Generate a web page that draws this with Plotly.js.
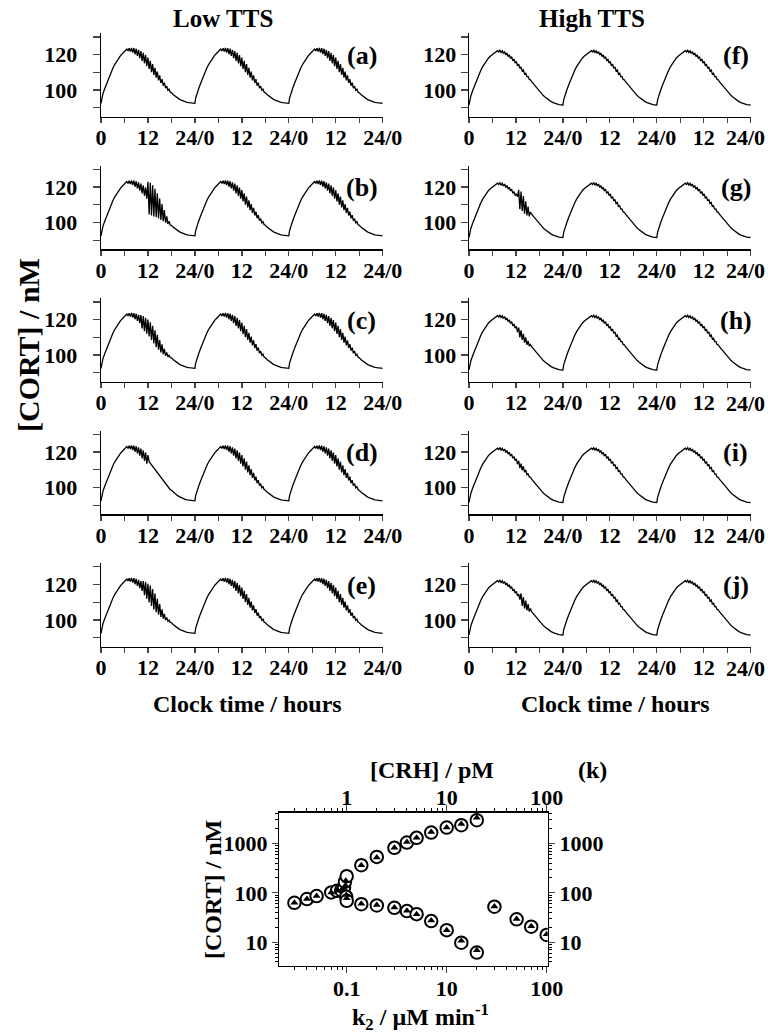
<!DOCTYPE html>
<html>
<head>
<meta charset="utf-8">
<script src="https://cdn.plot.ly/plotly-3.0.1.min.js"></script>
<style>html,body{margin:0;padding:0;background:#fff;}#chart{width:768px;height:1034px;}</style>
</head>
<body>
<div id="chart"></div>
<script>
// ---------- time-course data (one day, hours) ----------
const lowRiseT = [0, 0.2, 0.5, 1, 1.5, 2, 2.5, 3, 3.5, 4, 4.5, 5, 5.5, 6, 6.3];
const lowRiseV = [92.5, 95.5, 98, 101, 104, 107, 109.8, 112.2, 114.4, 116.3, 118, 119.4, 120.6, 121.6, 122.2];
const lowTeethT = [6.6, 6.9, 7.2, 7.5, 7.8, 8.1, 8.4, 8.7, 9.0, 9.3, 9.6, 9.9, 10.2, 10.5, 10.8, 11.1, 11.4, 11.7, 12.0, 12.3, 12.6, 12.9, 13.2, 13.5, 13.8, 14.1, 14.4, 14.7, 15.0, 15.3, 15.6, 15.9, 16.2, 16.5, 16.8, 17.1, 17.4, 17.7];
const lowTeethV = [123.1, 122.1, 123.6, 121.7, 123.8, 121.1, 123.6, 120.2, 123.3, 119.3, 122.7, 118.0, 122.0, 116.5, 121.0, 115.1, 119.8, 113.5, 118.3, 111.9, 116.5, 110.1, 114.6, 108.5, 112.5, 107.0, 110.4, 105.5, 108.3, 104.0, 106.2, 102.5, 104.2, 101.1, 102.2, 99.9, 100.5, 98.8];
const lowDecayT = [18, 18.5, 19, 19.5, 20, 20.5, 21, 21.5, 22, 22.5, 23, 23.5, 24];
const lowDecayV = [98.5, 97.4, 96.4, 95.6, 94.9, 94.3, 93.8, 93.4, 93.1, 92.9, 92.7, 92.6, 92.5];

const highRiseT = [0, 0.2, 0.5, 1, 1.5, 2, 2.5, 3, 3.5, 4, 4.5, 5, 5.5, 6, 6.5];
const highRiseV = [91.6, 94.5, 97, 100, 103, 106, 108.7, 111, 113.2, 115.1, 116.7, 118.1, 119.2, 120.1, 120.9];
const highTeethT = [7.0, 7.3, 7.6, 7.9, 8.2, 8.5, 8.8, 9.1, 9.4, 9.7, 10.0, 10.3, 10.6, 10.9, 11.2, 11.5, 11.8, 12.1, 12.4, 12.7, 13.0, 13.3, 13.6, 13.9, 14.2, 14.5, 14.8, 15.1, 15.4, 15.7];
const highTeethV = [121.5, 122.2, 121.5, 122.4, 121.2, 122.1, 120.6, 121.7, 119.8, 120.9, 118.9, 119.9, 117.8, 118.9, 116.5, 117.5, 115.2, 116.2, 113.7, 114.6, 112.2, 113.0, 110.7, 111.3, 109.1, 109.5, 107.6, 107.7, 106.0, 105.8];
const highDecayT = [16, 16.5, 17, 17.5, 18, 18.5, 19, 19.5, 20, 20.5, 21, 21.5, 22, 22.5, 23, 23.5, 24];
const highDecayV = [104.7, 103.3, 101.9, 100.5, 99.2, 98, 96.9, 95.9, 95, 94.2, 93.5, 92.9, 92.4, 92, 91.8, 91.7, 91.6];

// first-day deviations (stress segments)
const segBT = [12.0, 12.3, 12.6, 12.9, 13.2, 13.5, 13.8, 14.1, 14.4, 14.7, 15.0, 15.3, 15.6, 15.9, 16.2, 16.5, 16.8, 17.1, 17.4, 17.7];
const segBV = [123.0, 104.5, 122.5, 104.0, 121.0, 103.5, 119.0, 103.0, 116.5, 102.3, 113.5, 101.5, 110.5, 100.8, 107.0, 100.0, 103.5, 99.2, 100.8, 98.6];
const segCT = [10.2, 10.5, 10.8, 11.1, 11.4, 11.7, 12.0, 12.3, 12.6, 12.9, 13.2, 13.5, 13.8, 14.1, 14.4, 14.7, 15.0, 15.3, 15.6, 15.9, 16.2, 16.5, 16.8, 17.1, 17.4, 17.7];
const segCV = [122.5, 115, 122, 113.5, 121, 112, 120, 110.5, 118.5, 108.5, 116.5, 106.5, 114, 104.5, 111.5, 103, 108.5, 101.5, 106, 100.5, 103.5, 99.6, 101.5, 99, 100, 98.6];
const segDT = [12.3, 12.6, 13, 13.5, 14, 14.5, 15, 15.5, 16, 16.5, 17, 17.5];
const segDV = [114.6, 113.7, 112.5, 111, 109.5, 108, 106.5, 105, 103.5, 102.1, 100.8, 99.6];
const segET = [10.8, 11.1, 11.4, 11.7, 12.0, 12.3, 12.6, 12.9, 13.2, 13.5, 13.8, 14.1, 14.4, 14.7, 15.0, 15.3, 15.6, 15.9, 16.2, 16.5, 16.8, 17.1, 17.4, 17.7];
const segEV = [122, 114, 121.5, 112, 120.5, 110, 119.5, 108, 117.5, 106, 115, 104.5, 112, 103, 109, 101.8, 106, 100.8, 103.5, 100, 101.5, 99.3, 100, 98.7];
const segGT = [12.4, 12.7, 13.0, 13.3, 13.6, 13.9, 14.2, 14.5, 14.8, 15.1, 15.4, 15.7];
const segGV = [114.5, 118.5, 107.5, 117.5, 106.5, 115, 105, 112, 104, 109, 103.5, 106];
const segHT = [12.4, 12.7, 13.0, 13.3, 13.6, 13.9, 14.2, 14.5, 14.8, 15.1, 15.4, 15.7];
const segHV = [113, 115.5, 110, 114, 108.5, 112, 107, 110, 105.8, 108, 105, 106];
const segIT = [12.4, 12.7, 13.0, 13.3, 13.6, 13.9, 14.2, 14.5, 14.8];
const segIV = [113.2, 115, 111, 113.5, 109.8, 112, 108.6, 110, 107.3];
const segJT = [13.0, 13.3, 13.6, 13.9, 14.2, 14.5, 14.8, 15.1, 15.4, 15.7];
const segJV = [111.5, 115, 108, 113, 106.5, 111, 105.5, 109, 104.8, 106.5];

const panelLabels = ['(a)', '(b)', '(c)', '(d)', '(e)', '(f)', '(g)', '(h)', '(i)', '(j)'];
const xTickVals = [0, 6, 12, 18, 24, 30, 36, 42, 48, 54, 60, 66, 72];
const xTickText = ['0', '', '12', '', '24/0', '', '12', '', '24/0', '', '12', '', '24/0'];
const yTickVals = [90, 100, 110, 120, 130];
const yTickText = ['', '100', '', '120', ''];

// ---------- panel (k) data ----------
const crhCirc = [0.3, 0.4, 0.5, 0.7, 0.8, 0.88, 0.94, 0.96, 1.0, 0.99, 1.0,
                 1.4, 2, 3, 4, 5, 7, 10, 14, 20,
                 1.4, 2, 3, 4, 5, 7, 10, 14, 20,
                 30, 50, 70, 100];
const cortCirc = [63, 75, 86, 102, 110, 113, 128, 167, 217, 83, 69,
                  362, 533, 811, 1040, 1292, 1656, 2090, 2328, 2937,
                  59, 55.5, 49.8, 42.7, 37.1, 26.8, 17.6, 9.8, 6.2,
                  52.5, 29.2, 20.7, 14.1];
const crhTri = [0.3, 0.4, 0.5, 0.7, 0.8, 0.88, 0.94, 0.97, 0.98, 0.99, 1.0,
                1.4, 2, 3, 4, 5, 7, 10, 14, 20,
                1.4, 2, 3, 4, 5, 7, 10, 14, 20,
                30, 50, 70, 100];
const cortTri = [63, 75, 86, 102, 110, 113, 120, 140, 175, 90, 78,
                 362, 520, 811, 1060, 1292, 1700, 2090, 2450, 3300,
                 60, 56.5, 50.5, 43.5, 37.1, 27.5, 17.6, 10.7, 6.9,
                 53, 29.5, 21, 14.5];

const crhTickVals = [1, 10, 100];
const crhTopText = ['1', '10', '100'];
const k2BottomText = ['0.1', '10', '100'];
const cortTickVals = [10, 100, 1000];
const cortTickText = ['10', '100', '1000'];
const crhMinor = [0.3, 0.4, 0.5, 0.6, 0.7, 0.8, 0.9, 2, 3, 4, 5, 6, 7, 8, 9, 20, 30, 40, 50, 60, 70, 80, 90];
const cortMinor = [4, 5, 6, 7, 8, 9, 20, 30, 40, 50, 60, 70, 80, 90, 200, 300, 400, 500, 600, 700, 800, 900, 2000, 3000, 4000];

// ---------- build ----------
const FONT = 'Liberation Serif, Times New Roman, serif';
const W = 768, H = 1034;
const px = v => v / W;
const py = v => 1 - v / H;

function dayCurve(riseT, riseV, teethT, teethV, decT, decV, segT, segV) {
  const bt = riseT.concat(teethT, decT);
  const bv = riseV.concat(teethV, decV);
  let pts = [];
  let lo = Infinity, hi = -Infinity;
  if (segT) { lo = segT[0] - 0.15; hi = segT[segT.length - 1] + 0.15; }
  bt.forEach((t, i) => { if (t < lo || t > hi) pts.push([t, bv[i]]); });
  if (segT) segT.forEach((t, i) => pts.push([t, segV[i]]));
  pts.sort((a, b) => a[0] - b[0]);
  return pts;
}

const lowParts = [lowRiseT, lowRiseV, lowTeethT, lowTeethV, lowDecayT, lowDecayV];
const highParts = [highRiseT, highRiseV, highTeethT, highTeethV, highDecayT, highDecayV];
const segs = [null, [segBT, segBV], [segCT, segCV], [segDT, segDV], [segET, segEV],
              null, [segGT, segGV], [segHT, segHV], [segIT, segIV], [segJT, segJV]];

const traces = [];
const layout = {
  width: W, height: H, margin: {l: 0, r: 0, t: 0, b: 0},
  paper_bgcolor: '#fff', plot_bgcolor: 'rgba(0,0,0,0)', showlegend: false,
  font: {family: FONT, color: '#000'},
  annotations: []
};
const tickFont = {family: FONT, size: 22, color: '#000', weight: 700};
const rowSpacing = 132.5, firstAxis = 116.7, panelH = 83.4;

function ann(text, x, y, size, angle, xanchor) {
  layout.annotations.push({text: '<b>' + text + '</b>', xref: 'paper', yref: 'paper', x: px(x), y: py(y),
    showarrow: false, xanchor: xanchor || 'center', yanchor: 'middle', textangle: angle || 0,
    font: {family: FONT, size: size, color: '#000'}});
}

for (let p = 0; p < 10; p++) {
  const col = p < 5 ? 0 : 1;
  const row = p % 5;
  const parts = col === 0 ? lowParts : highParts;
  const base = dayCurve(...parts);
  const first = segs[p] ? dayCurve(...parts, segs[p][0], segs[p][1]) : base;
  const xs = [], ys = [];
  [first, base, base].forEach((d, k) => d.forEach(q => { xs.push(q[0] + 24 * k); ys.push(q[1]); }));
  const n = p + 1;
  traces.push({x: xs, y: ys, type: 'scatter', mode: 'lines',
    line: {color: '#000', width: 1.3}, xaxis: 'x' + n, yaxis: 'y' + n, hoverinfo: 'skip'});
  const x0 = col === 0 ? 101 : 469, x1 = col === 0 ? 382.7 : 750.7;
  const yb = firstAxis + rowSpacing * row;
  // right column: last label is pulled inside the page edge (as in the original)
  const tt = col === 0 ? xTickText : xTickText.slice(0, -1).concat(['']);
  layout['xaxis' + n] = {domain: [px(x0), px(x1)], anchor: 'y' + n, range: [0, 72],
    tickmode: 'array', tickvals: xTickVals, ticktext: tt, ticks: 'outside', ticklen: 5,
    tickwidth: 1.3, showline: true, linecolor: '#000', linewidth: 1.3, showgrid: false,
    zeroline: false, tickfont: tickFont, fixedrange: true,
    ticklabeloverflow: 'allow', ticklabelstandoff: -4};
  if (col === 1) ann(xTickText[xTickText.length - 1], 767, yb + 21.3, 22, 0, 'right');
  layout['yaxis' + n] = {domain: [py(yb), py(yb - panelH)], anchor: 'x' + n, range: [85, 132],
    tickmode: 'array', tickvals: yTickVals, ticktext: yTickText, ticks: 'outside', ticklen: 7,
    tickwidth: 1.3, showline: true, linecolor: '#000', linewidth: 1.3, showgrid: false,
    zeroline: false, tickfont: tickFont, fixedrange: true,
    ticklabelstandoff: col === 0 ? 11 : 0};
  ann(panelLabels[p], col === 0 ? 361.7 : 735.7, yb - 61.5, 26);
}

// panel k
traces.push({x: crhCirc, y: cortCirc, type: 'scatter', mode: 'markers', xaxis: 'x11', yaxis: 'y11',
  marker: {symbol: 'circle', size: 12.5, color: '#fff', line: {color: '#000', width: 2}}, hoverinfo: 'skip'});
traces.push({x: crhTri, y: cortTri, type: 'scatter', mode: 'markers', xaxis: 'x12', yaxis: 'y12',
  marker: {symbol: 'triangle-up', size: 7, color: '#000', line: {width: 0}}, hoverinfo: 'skip'});

const kx = [px(279.3), px(547.7)], ky = [py(965.7), py(812.7)];
const kxr = [-0.674, 2.01], kyr = [0.527, 3.62];
const axCommon = {showline: true, linecolor: '#000', linewidth: 1.3, showgrid: false, zeroline: false,
  ticks: 'outside', ticklen: 6, tickwidth: 1.2, tickfont: tickFont, fixedrange: true, type: 'log',
  ticklabeloverflow: 'allow'};
const minorX = {tickmode: 'array', tickvals: crhMinor, ticklen: 3, ticks: 'outside', tickcolor: '#000', tickwidth: 1};
const minorY = {tickmode: 'array', tickvals: cortMinor, ticklen: 3, ticks: 'outside', tickcolor: '#000', tickwidth: 1};
layout.xaxis11 = Object.assign({}, axCommon, {domain: kx, anchor: 'y11', range: kxr,
  tickmode: 'array', tickvals: crhTickVals, ticktext: k2BottomText, minor: minorX, ticklabelstandoff: -3});
layout.yaxis11 = Object.assign({}, axCommon, {domain: ky, anchor: 'x11', range: kyr,
  tickmode: 'array', tickvals: cortTickVals, ticktext: cortTickText, minor: minorY});
layout.xaxis12 = Object.assign({}, axCommon, {overlaying: 'x11', side: 'top', anchor: 'y12', range: kxr,
  tickmode: 'array', tickvals: crhTickVals, ticktext: crhTopText, minor: minorX, ticklabelstandoff: -8});
layout.yaxis12 = Object.assign({}, axCommon, {overlaying: 'y11', side: 'right', anchor: 'x12', range: kyr,
  tickmode: 'array', tickvals: cortTickVals, ticktext: cortTickText, minor: minorY});

ann('Low TTS', 223, 18, 25);
ann('High TTS', 592, 18, 25);
ann('[CORT] / nM', 28, 345, 30, -90);
ann('Clock time / hours', 247, 704, 24);
ann('Clock time / hours', 615, 704, 24);
ann('[CRH] / pM', 432, 770, 24);
ann('(k)', 592, 770, 24);
ann('[CORT] / nM', 213, 890, 24, -90);
ann('k<sub>2</sub> / µM min<sup>-1</sup>', 420, 1017, 24);

Plotly.newPlot('chart', traces, layout, {staticPlot: true, displayModeBar: false});
</script>
</body>
</html>
